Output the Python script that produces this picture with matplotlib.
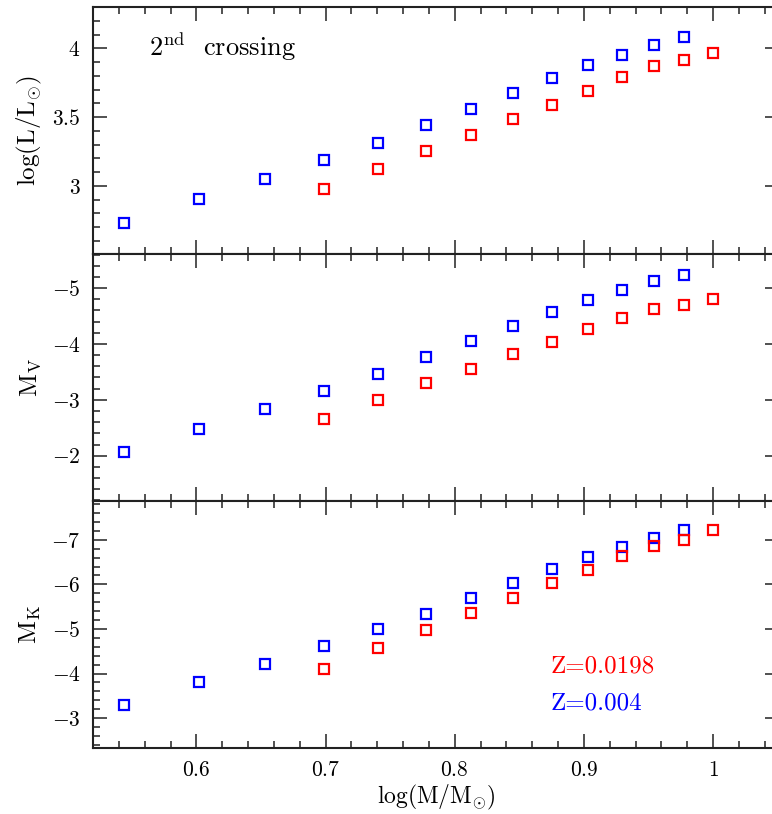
import matplotlib
matplotlib.use('Agg')
import matplotlib.pyplot as plt
from matplotlib.ticker import MultipleLocator, FuncFormatter
import numpy as np

plt.rcParams['font.family'] = 'serif'
plt.rcParams['font.serif'] = ['cmr10', 'DejaVu Serif']
plt.rcParams['mathtext.fontset'] = 'cm'
plt.rcParams['axes.unicode_minus'] = True

# masses (solar units) of the models
mass_z004 = [3.5, 4.0, 4.5, 5.0, 5.5, 6.0, 6.5, 7.0, 7.5, 8.0, 8.5, 9.0, 9.5]
mass_z0198 = [5.0, 5.5, 6.0, 6.5, 7.0, 7.5, 8.0, 8.5, 9.0, 9.5, 10.0]

# log L/Lsun at the 2nd crossing
logL_z004 = [2.727, 2.906, 3.048, 3.188, 3.313, 3.441, 3.561, 3.672, 3.781, 3.877, 3.949, 4.027, 4.085]
logL_z0198 = [2.978, 3.123, 3.253, 3.371, 3.487, 3.588, 3.689, 3.793, 3.868, 3.913, 3.969]

# absolute V magnitude
MV_z004 = [-2.06, -2.48, -2.83, -3.16, -3.47, -3.77, -4.06, -4.33, -4.57, -4.79, -4.96, -5.12, -5.24]
MV_z0198 = [-2.665, -3.00, -3.30, -3.56, -3.82, -4.03, -4.26, -4.46, -4.63, -4.70, -4.81]

# absolute K magnitude
MK_z004 = [-3.29, -3.80, -4.22, -4.62, -5.00, -5.34, -5.70, -6.03, -6.34, -6.62, -6.83, -7.04, -7.22]
MK_z0198 = [-4.11, -4.57, -4.97, -5.35, -5.69, -6.03, -6.33, -6.64, -6.86, -7.00, -7.21]

x1 = np.log10(mass_z004)
x2 = np.log10(mass_z0198)

fig, axs = plt.subplots(3, 1, sharex=True, figsize=(7.72, 8.14), dpi=100)
fig.subplots_adjust(left=0.1205, right=1.009, top=0.9914, bottom=0.0811, hspace=0)

panels = [
    (logL_z004, logL_z0198, (2.505, 4.3), 0.5, 0.1, r'$\log(\mathrm{L}/\mathrm{L}_{\odot})$'),
    (MV_z004, MV_z0198, (-1.19, -5.61), 1, 0.2, r'$\mathrm{M_V}$'),
    (MK_z004, MK_z0198, (-2.33, -7.87), 1, 0.2, r'$\mathrm{M_K}$'),
]

fmt = FuncFormatter(lambda v, p: '$%g$' % v)

for ax, (yb, yr, ylim, maj, mnr, lab) in zip(axs, panels):
    ax.plot(x1, yb, 's', mfc='none', mec='blue', ms=6.5, mew=1.6)
    ax.plot(x2, yr, 's', mfc='none', mec='red', ms=6.5, mew=1.6)
    ax.set_ylim(ylim)
    ax.set_xlim(0.52, 1.051)
    ax.xaxis.set_major_locator(MultipleLocator(0.1))
    ax.xaxis.set_minor_locator(MultipleLocator(0.02))
    ax.yaxis.set_major_locator(MultipleLocator(maj))
    ax.yaxis.set_minor_locator(MultipleLocator(mnr))
    ax.xaxis.set_major_formatter(fmt)
    ax.yaxis.set_major_formatter(fmt)
    ax.tick_params(which='both', direction='in', top=True, right=True,
                   color='#333333', labelsize=15.5)
    ax.tick_params(which='major', length=10, width=1.2, pad=9)
    ax.tick_params(which='minor', length=5, width=1.2)
    for s in ax.spines.values():
        s.set_linewidth(1.5)
        s.set_color('#222222')
    ax.set_ylabel(lab, fontsize=18, labelpad=6)

axs[0].text(0.081, 0.84, r'$\mathrm{2^{nd}}$  crossing', transform=axs[0].transAxes,
            fontsize=19, va='center', ha='left')
axs[2].text(0.667, 0.33, 'Z=0.0198', color='red', transform=axs[2].transAxes,
            fontsize=18, va='center', ha='left')
axs[2].text(0.667, 0.18, 'Z=0.004', color='blue', transform=axs[2].transAxes,
            fontsize=18, va='center', ha='left')
axs[2].set_xlabel(r'$\log(\mathrm{M}/\mathrm{M}_{\odot})$', fontsize=17, labelpad=2)

fig.savefig('out.png', dpi=100)
